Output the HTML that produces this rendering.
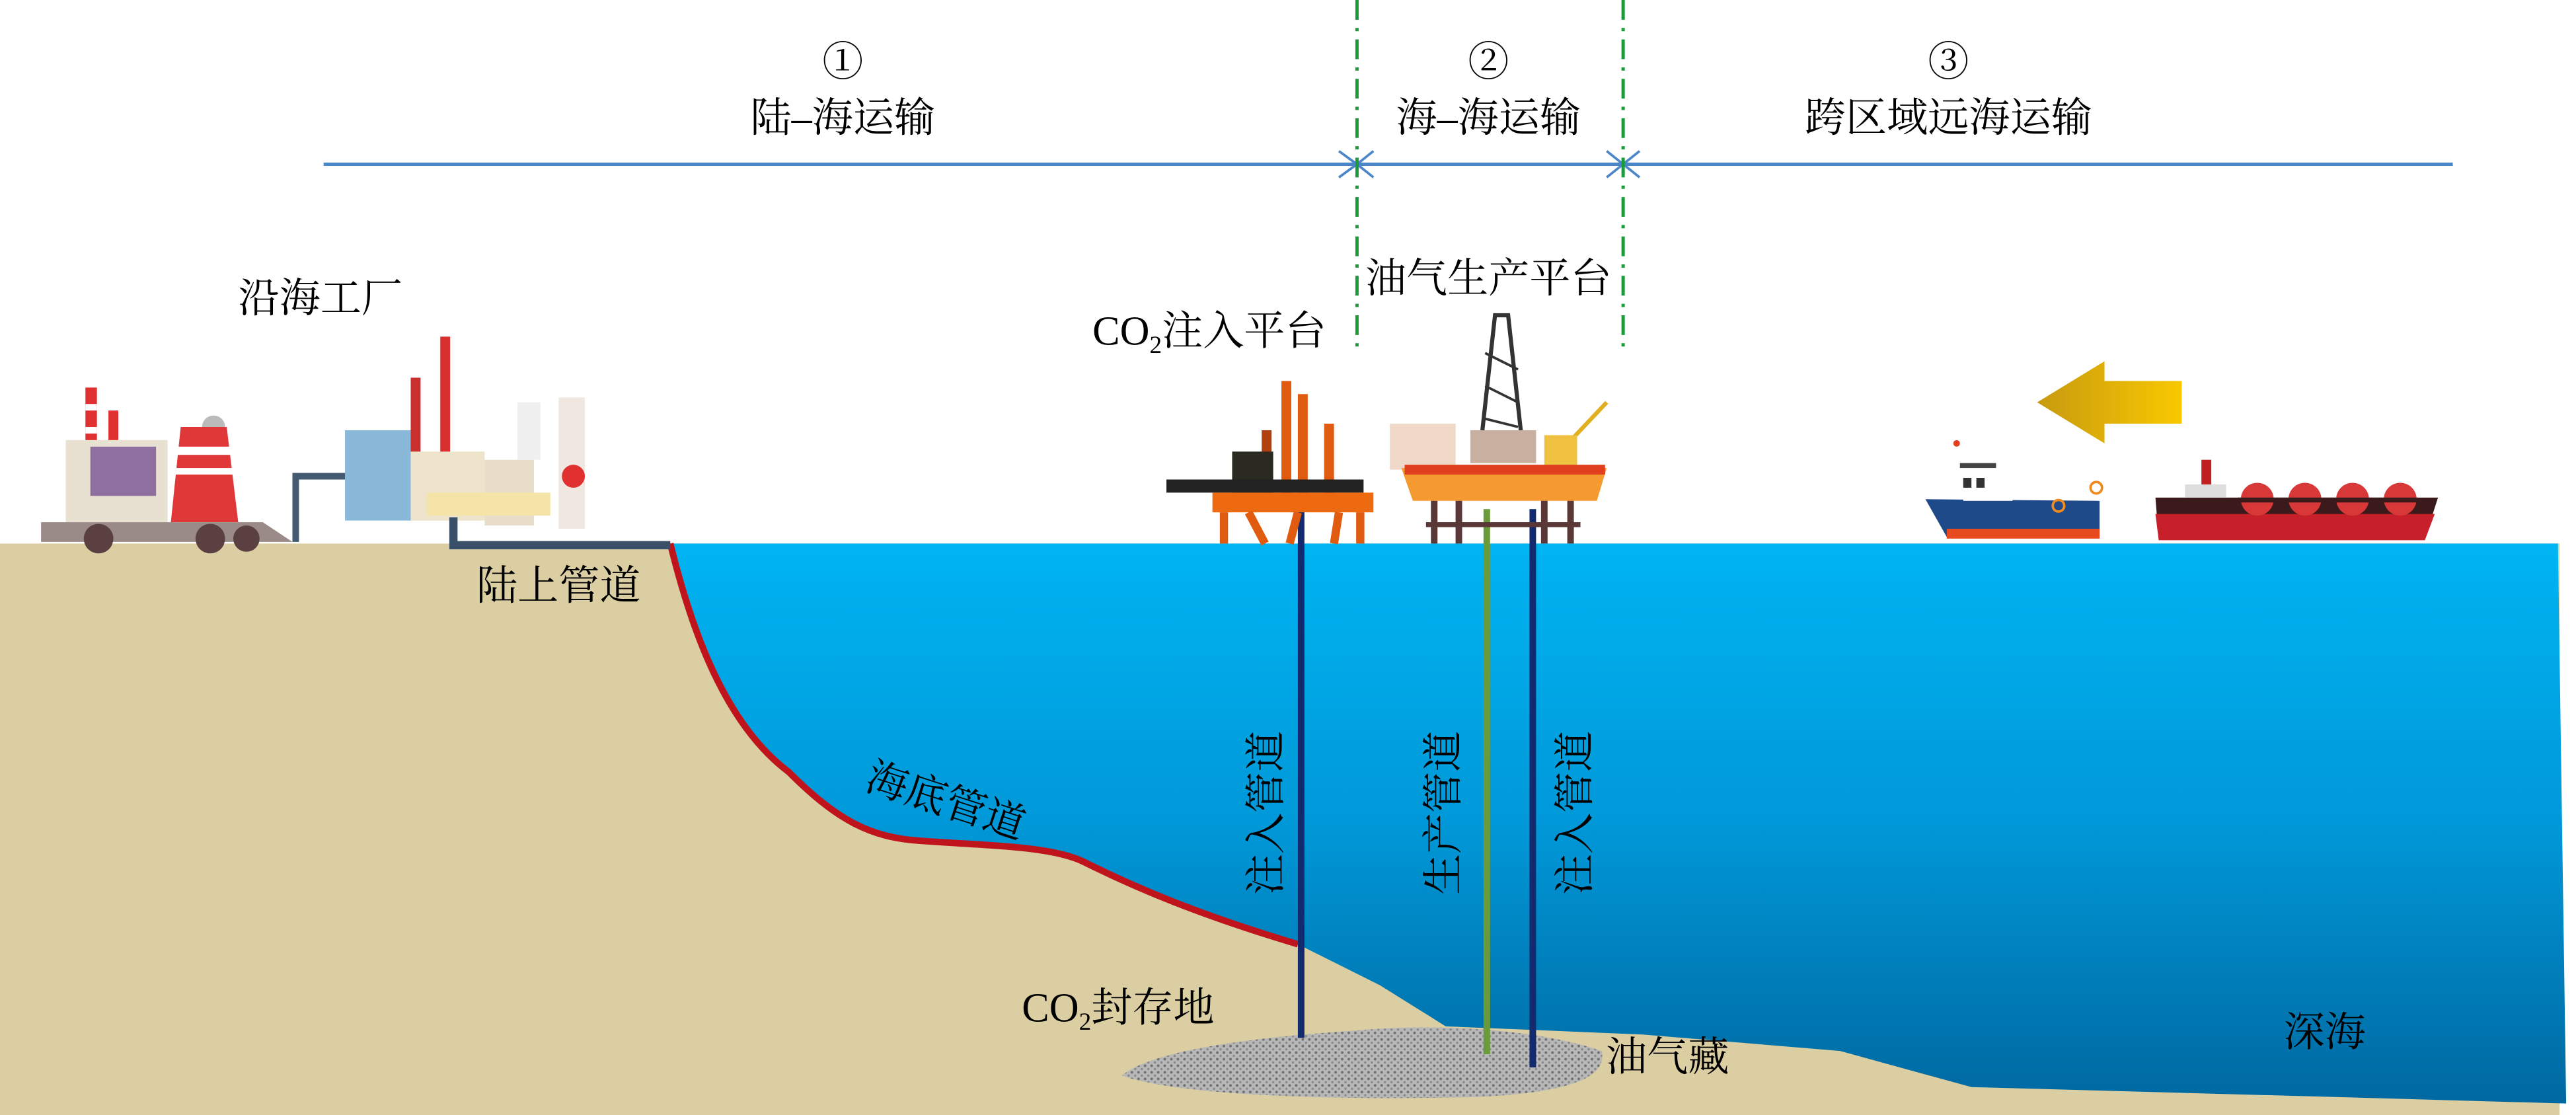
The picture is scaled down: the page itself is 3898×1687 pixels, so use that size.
<!DOCTYPE html>
<html><head><meta charset="utf-8"><style>
html,body{margin:0;padding:0;background:#fff}
svg{display:block}
text{font-family:"Liberation Serif","Noto Serif CJK SC",serif;fill:#000}
</style></head><body>
<svg width="3898" height="1687" viewBox="0 0 1568 679" preserveAspectRatio="none" xmlns="http://www.w3.org/2000/svg">
<defs>
<linearGradient id="sea" x1="0" y1="0" x2="0" y2="1">
<stop offset="0" stop-color="#00b4f2"/><stop offset="0.5" stop-color="#0098d8"/><stop offset="1" stop-color="#0068a0"/></linearGradient>
<linearGradient id="arr" x1="0" y1="0" x2="1" y2="0"><stop offset="0" stop-color="#c89a10"/><stop offset="1" stop-color="#f8c800"/></linearGradient>
<pattern id="rock" width="4" height="4" patternUnits="userSpaceOnUse"><rect width="4" height="4" fill="#b8b8b8"/><circle cx="1" cy="1" r="0.8" fill="#707070"/><circle cx="3" cy="3" r="0.7" fill="#888"/></pattern>
</defs>
<rect x="0" y="331" width="1558" height="348" fill="#dbcea3"/>
<path d="M408,331 L1557,331 L1562,672 L1420,668 L1200,662 L1120,640 L1000,630 L880,625 L840,600 L790,575 C740,560 700,545 660,525 C640,515 600,515 560,512 C530,510 510,500 480,470 C440,440 420,380 408,331 Z" fill="url(#sea)"/>
<path d="M408,331 C420,380 440,440 480,470 C510,500 530,510 560,512 C600,515 640,515 660,525 C700,545 740,560 790,575" fill="none" stroke="#c0141c" stroke-width="4"/>
<!-- top line -->
<line x1="197" y1="100" x2="1493" y2="100" stroke="#4a86c8" stroke-width="2"/>
<path d="M815,92 L826,100 L815,108 M836,92 L826,100 L836,108 M978,92 L988,100 L978,108 M998,92 L988,100 L998,108" fill="none" stroke="#4a86c8" stroke-width="1.5"/>
<line x1="826" y1="0" x2="826" y2="212" stroke="#1a9a3a" stroke-width="2" stroke-dasharray="12,5,2,5"/>
<line x1="988" y1="0" x2="988" y2="212" stroke="#1a9a3a" stroke-width="2" stroke-dasharray="12,5,2,5"/>
<g font-size="25" text-anchor="middle">
<text x="513" y="46">①</text><text x="513" y="80">陆–海运输</text>
<text x="906" y="46">②</text><text x="906" y="80">海–海运输</text>
<text x="1186" y="46">③</text><text x="1186" y="80">跨区域远海运输</text>
<text x="195" y="190">沿海工厂</text>
<text x="906" y="178">油气生产平台</text>
<text x="340" y="365">陆上管道</text>
<text x="1415" y="637">深海</text>
<text x="1015" y="652">油气藏</text>
</g>
<text x="665" y="210" font-size="25">CO<tspan font-size="15" dy="5">2</tspan><tspan dy="-5">注入平台</tspan></text>
<text x="622" y="622" font-size="25">CO<tspan font-size="15" dy="5">2</tspan><tspan dy="-5">封存地</tspan></text>
<text x="575" y="496" font-size="25" text-anchor="middle" transform="rotate(18 575 490)">海底管道</text>
<g font-size="25" text-anchor="middle">
<text x="0" y="0" transform="translate(779,495) rotate(-90)">注入管道</text>
<text x="0" y="0" transform="translate(887,495) rotate(-90)">生产管道</text>
<text x="0" y="0" transform="translate(967,495) rotate(-90)">注入管道</text>
</g>
<!-- storage -->
<path d="M683,655 C700,640 760,632 820,628 C880,622 940,628 975,640 C978,655 960,665 900,668 C820,670 720,668 683,655 Z" fill="url(#rock)"/>
<!-- pipes -->
<line x1="792" y1="310" x2="792" y2="632" stroke="#142a6e" stroke-width="4"/>
<line x1="905" y1="310" x2="905" y2="642" stroke="#6a9a3a" stroke-width="4"/>
<line x1="933" y1="310" x2="933" y2="650" stroke="#142a6e" stroke-width="4"/>
<!-- factory 1 -->
<g>
<rect x="52" y="236" width="7" height="62" fill="#e03030"/><rect x="66" y="250" width="6" height="48" fill="#e03030"/>
<rect x="52" y="246" width="7" height="4" fill="#fff"/><rect x="52" y="260" width="7" height="4" fill="#fff"/>
<circle cx="130" cy="260" r="7" fill="#bbb"/><circle cx="118" cy="280" r="6" fill="#ccc"/>
<rect x="40" y="268" width="62" height="50" fill="#e8e0d0"/><rect x="55" y="272" width="40" height="30" fill="#8e6fa0"/>
<path d="M104,318 L110,260 L138,260 L145,318 Z" fill="#e03838"/><rect x="108" y="272" width="32" height="5" fill="#fff"/><rect x="106" y="285" width="36" height="4" fill="#fff"/>
<path d="M25,330 L25,318 L160,318 L178,330 Z" fill="#9a8a88"/>
<circle cx="60" cy="328" r="9" fill="#5a4040"/><circle cx="128" cy="328" r="9" fill="#5a4040"/><circle cx="150" cy="328" r="8" fill="#5a4040"/>
</g>
<!-- factory 2 -->
<g>
<rect x="268" y="205" width="6" height="75" fill="#d83030"/><rect x="250" y="230" width="6" height="50" fill="#c83030"/>
<rect x="210" y="262" width="40" height="55" fill="#8ab8d8"/><rect x="250" y="275" width="45" height="42" fill="#eee4cc"/>
<rect x="295" y="280" width="30" height="40" fill="#e8ddc8"/>
<rect x="315" y="245" width="14" height="35" fill="#f0f0f0"/><rect x="340" y="242" width="16" height="80" fill="#f0e8e0"/>
<circle cx="349" cy="290" r="7" fill="#e03030"/>
<rect x="260" y="300" width="75" height="14" fill="#f4e4a8"/>
<path d="M180,330 L180,290 L210,290" fill="none" stroke="#445a70" stroke-width="4"/>
<path d="M276,315 L276,332 L408,332" fill="none" stroke="#3a5068" stroke-width="5"/>
</g>
<!-- CO2 platform -->
<g>
<rect x="780" y="232" width="6" height="70" fill="#e05a10"/><rect x="790" y="240" width="6" height="60" fill="#e05a10"/>
<rect x="768" y="262" width="6" height="40" fill="#b04010"/><rect x="806" y="258" width="6" height="45" fill="#e05a10"/>
<rect x="750" y="275" width="25" height="25" fill="#2a2a20"/>
<rect x="710" y="292" width="120" height="8" fill="#222"/>
<rect x="738" y="300" width="98" height="12" fill="#ee6a10"/>
<path d="M745,312 L745,331 M760,312 L770,331 M790,312 L785,331 M815,312 L812,331 M828,312 L828,331" stroke="#e05a10" stroke-width="5"/>
</g>
<!-- production platform -->
<g>
<path d="M910,192 L902,265 L926,265 L918,192 Z" fill="none" stroke="#333" stroke-width="2.5"/>
<path d="M904,215 L924,225 M904,235 L924,245 M904,255 L924,260" stroke="#333" stroke-width="1.5"/>
<rect x="846" y="258" width="40" height="28" fill="#f0d8c8"/>
<rect x="895" y="262" width="40" height="20" fill="#c8b0a0"/>
<path d="M945,280 L978,245" stroke="#e0b020" stroke-width="2.5"/>
<rect x="940" y="265" width="20" height="20" fill="#f0c040"/>
<path d="M853,285 L978,285 L972,305 L860,305 Z" fill="#f59a30"/>
<rect x="855" y="283" width="122" height="6" fill="#e04020"/>
<path d="M873,305 L873,331 M888,305 L888,331 M940,305 L940,331 M956,305 L956,331" stroke="#5a3838" stroke-width="4"/>
<rect x="868" y="318" width="94" height="3" fill="#5a3838"/>
</g>
<!-- arrow -->
<path d="M1240,245 L1281,220 L1281,232 L1328,232 L1328,258 L1281,258 L1281,270 Z" fill="url(#arr)"/>
<!-- blue ship -->
<g>
<path d="M1172,304 L1278,305 L1278,327 L1185,327 Z" fill="#1f4a8a"/>
<rect x="1185" y="322" width="93" height="6" fill="#e84a20"/>
<rect x="1195" y="285" width="30" height="20" fill="#fff"/>
<rect x="1195" y="291" width="5" height="6" fill="#333"/><rect x="1203" y="291" width="5" height="6" fill="#333"/>
<rect x="1193" y="282" width="22" height="3" fill="#444"/>
<circle cx="1276" cy="297" r="3.5" fill="none" stroke="#f08a20" stroke-width="1.5"/>
<circle cx="1253" cy="308" r="3.5" fill="none" stroke="#f08a20" stroke-width="1.5"/>
<circle cx="1191" cy="270" r="2" fill="#e04020"/>
</g>
<!-- LNG ship -->
<g>
<path d="M1312,303 L1484,303 L1476,328 L1314,328 Z" fill="#3a1a1a"/>
<path d="M1312,313 L1482,313 L1476,329 L1314,329 Z" fill="#c8202a"/>
<rect x="1340" y="280" width="6" height="20" fill="#c02020"/>
<g fill="#d83838"><circle cx="1374" cy="304" r="10"/><circle cx="1403" cy="304" r="10"/><circle cx="1432" cy="304" r="10"/><circle cx="1461" cy="304" r="10"/></g>
<rect x="1362" y="303" width="110" height="3" fill="#3a1a1a"/>
<rect x="1330" y="295" width="25" height="8" fill="#ddd"/>
</g>
</svg>
</body></html>
